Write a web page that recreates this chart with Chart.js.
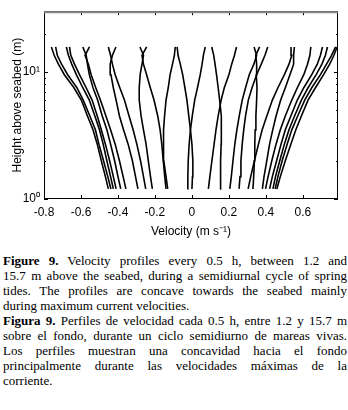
<!DOCTYPE html>
<html>
<head>
<meta charset="utf-8">
<script src="https://cdn.jsdelivr.net/npm/chart.js@4.4.1/dist/chart.umd.min.js"></script>
<style>
  body { margin: 0; background: #fff; width: 348px; height: 410px; overflow: hidden; }
  #chart { position: absolute; left: 0; top: 0; }
  #caption { position: absolute; left: 3px; top: 253px; width: 344px; font-family: 'Liberation Serif', 'Times New Roman', serif; font-size: 13px; line-height: 15px; color: #000; }
  #caption div { white-space: nowrap; text-align: justify; text-align-last: justify; }
  #caption div.last { text-align-last: left; }
</style>
</head>
<body>
<canvas id="chart" width="348" height="242"></canvas>
<div id="caption">
  <div><b>Figure 9.</b> Velocity profiles every 0.5 h, between 1.2 and</div>
  <div>15.7 m above the seabed, during a semidiurnal cycle of spring</div>
  <div>tides. The profiles are concave towards the seabed mainly</div>
  <div class="last">during maximum current velocities.</div>
  <div><b>Figura 9.</b> Perfiles de velocidad cada 0.5 h, entre 1.2 y 15.7 m</div>
  <div>sobre el fondo, durante un ciclo semidiurno de mareas vivas.</div>
  <div>Los perfiles muestran una concavidad hacia el fondo</div>
  <div>principalmente durante las velocidades máximas de la</div>
  <div class="last">corriente.</div>
</div>
<script>
// bin heights above the seabed (m), bottom to top
const heights = [1.2, 1.5, 2, 2.7, 3.5, 4.5, 6, 7.5, 9.5, 11.5, 13.5, 15.7];

// velocity profiles (m/s) at each height
const prof01 = [-0.452, -0.468, -0.49, -0.512, -0.535, -0.565, -0.598, -0.638, -0.69, -0.722, -0.745, -0.76];
const prof02 = [-0.438, -0.455, -0.478, -0.503, -0.522, -0.552, -0.588, -0.622, -0.672, -0.705, -0.728, -0.737];
const prof03 = [-0.425, -0.44, -0.46, -0.48, -0.5, -0.525, -0.555, -0.59, -0.625, -0.65, -0.668, -0.679];
const prof04 = [-0.41, -0.425, -0.445, -0.468, -0.49, -0.512, -0.54, -0.572, -0.608, -0.635, -0.655, -0.662];
const prof05 = [-0.385, -0.4, -0.418, -0.44, -0.46, -0.485, -0.51, -0.535, -0.555, -0.565, -0.572, -0.59];
const prof06 = [-0.357, -0.372, -0.392, -0.415, -0.44, -0.465, -0.495, -0.52, -0.545, -0.56, -0.578, -0.554];
const prof07 = [-0.25, -0.262, -0.278, -0.298, -0.318, -0.34, -0.365, -0.39, -0.415, -0.43, -0.44, -0.452];
const prof08 = [-0.292, -0.305, -0.322, -0.345, -0.37, -0.392, -0.41, -0.425, -0.438, -0.442, -0.43, -0.411];
const prof09 = [-0.214, -0.224, -0.236, -0.248, -0.262, -0.275, -0.285, -0.285, -0.28, -0.27, -0.262, -0.281];
const prof10 = [-0.14, -0.147, -0.155, -0.163, -0.172, -0.185, -0.205, -0.225, -0.245, -0.262, -0.27, -0.245];
const prof11 = [-0.131, -0.14, -0.152, -0.155, -0.152, -0.148, -0.14, -0.128, -0.118, -0.105, -0.095, -0.09];
const prof12 = [0.0, 0.003, 0.005, 0.0, -0.008, -0.017, -0.027, -0.038, -0.05, -0.063, -0.075, -0.08];
const prof13 = [-0.024, -0.022, -0.02, -0.015, -0.008, 0.002, 0.015, 0.03, 0.045, 0.055, 0.062, 0.072];
const prof14 = [0.152, 0.154, 0.156, 0.158, 0.16, 0.158, 0.15, 0.142, 0.133, 0.125, 0.118, 0.107];
const prof15 = [0.089, 0.097, 0.108, 0.12, 0.13, 0.142, 0.158, 0.175, 0.2, 0.215, 0.23, 0.241];
const prof16 = [0.205, 0.213, 0.222, 0.232, 0.243, 0.256, 0.272, 0.29, 0.31, 0.335, 0.35, 0.336];
const prof17 = [0.33, 0.334, 0.338, 0.34, 0.342, 0.346, 0.35, 0.352, 0.348, 0.35, 0.345, 0.366];
const prof18 = [0.255, 0.26, 0.265, 0.272, 0.28, 0.29, 0.305, 0.325, 0.35, 0.375, 0.395, 0.41];
const prof19 = [0.304, 0.318, 0.338, 0.36, 0.38, 0.405, 0.435, 0.465, 0.5, 0.525, 0.54, 0.536];
const prof20 = [0.381, 0.39, 0.405, 0.42, 0.437, 0.455, 0.48, 0.505, 0.53, 0.55, 0.55, 0.554];
const prof21 = [0.398, 0.412, 0.432, 0.455, 0.478, 0.505, 0.54, 0.57, 0.605, 0.625, 0.638, 0.643];
const prof22 = [0.42, 0.435, 0.458, 0.482, 0.505, 0.535, 0.57, 0.605, 0.648, 0.678, 0.695, 0.706];
const prof23 = [0.438, 0.452, 0.475, 0.5, 0.525, 0.555, 0.592, 0.628, 0.672, 0.703, 0.722, 0.733];
const prof24 = [0.45, 0.465, 0.488, 0.515, 0.54, 0.572, 0.61, 0.648, 0.695, 0.728, 0.755, 0.777];
const prof25 = [0.459, 0.478, 0.505, 0.535, 0.562, 0.592, 0.628, 0.668, 0.712, 0.745, 0.768, 0.785];

const profiles = [prof01, prof02, prof03, prof04, prof05, prof06, prof07, prof08, prof09, prof10,
  prof11, prof12, prof13, prof14, prof15, prof16, prof17, prof18, prof19, prof20,
  prof21, prof22, prof23, prof24, prof25];

// axis ticks
const xTicks = [-0.8, -0.6, -0.4, -0.2, 0, 0.2, 0.4, 0.6];
const yTicks = [1, 10];
const yMinorTicks = [2, 3, 4, 5, 6, 7, 8, 9, 20, 30];
const yLabels = {1: '10\u2070', 10: '10\u00b9'};

const axisFont = {family: "'Liberation Sans', Arial, sans-serif", size: 12};

// box around the plot with ticks pointing inward (matlab style)
const framePlugin = {
  id: 'frame',
  afterDraw(chart) {
    const {ctx, chartArea: a, scales: {x, y}} = chart;
    ctx.save();
    ctx.strokeStyle = '#000';
    ctx.lineWidth = 1;
    ctx.strokeRect(a.left + 0.5, a.top + 0.5, a.right - a.left - 1, a.bottom - a.top - 1);
    ctx.beginPath();
    xTicks.forEach(v => {
      const px = Math.round(x.getPixelForValue(v)) + 0.5;
      ctx.moveTo(px, a.bottom); ctx.lineTo(px, a.bottom - 4);
      ctx.moveTo(px, a.top); ctx.lineTo(px, a.top + 4);
    });
    yTicks.concat(yMinorTicks).forEach(v => {
      const py = Math.round(y.getPixelForValue(v)) + 0.5;
      const len = yTicks.includes(v) ? 4 : 2;
      ctx.moveTo(a.left, py); ctx.lineTo(a.left + len, py);
      ctx.moveTo(a.right, py); ctx.lineTo(a.right - len, py);
    });
    ctx.stroke();
    ctx.strokeStyle = '#888';
    ctx.lineWidth = 2;
    ctx.beginPath();
    ctx.moveTo(a.left, a.top + 1); ctx.lineTo(a.right, a.top + 1);
    ctx.stroke();
    ctx.restore();
  }
};

new Chart(document.getElementById('chart'), {
  type: 'line',
  data: {
    datasets: profiles.map(p => ({
      data: p.map((v, i) => ({x: v, y: heights[i]})),
      borderColor: '#000',
      borderWidth: 1.6,
      pointRadius: 0,
      fill: false,
      tension: 0
    }))
  },
  options: {
    responsive: false,
    animation: false,
    devicePixelRatio: 1,
    layout: {padding: {top: 2, right: 10, left: 0, bottom: 0}},
    plugins: {legend: {display: false}, tooltip: {enabled: false}},
    scales: {
      x: {
        type: 'linear',
        min: -0.8,
        max: 0.79,
        afterBuildTicks: s => { s.ticks = xTicks.map(v => ({value: v})); },
        afterFit: s => { s.height = 43; },
        grid: {display: false, drawTicks: false},
        border: {display: false},
        ticks: {padding: 6, color: '#000', font: axisFont, maxRotation: 0, callback: v => String(Math.round(v * 10) / 10)},
        title: {display: true, text: 'Velocity (m s\u207b\u00b9)', color: '#000', font: axisFont, padding: {top: 0, bottom: 3}}
      },
      y: {
        type: 'logarithmic',
        min: 1,
        max: 30,
        afterBuildTicks: s => { s.ticks = yTicks.map(v => ({value: v})); },
        afterFit: s => { s.width = 44; },
        grid: {display: false, drawTicks: false},
        border: {display: false},
        ticks: {padding: 4, color: '#000', font: axisFont, callback: v => yLabels[v] || ''},
        title: {display: true, text: 'Height above seabed (m)', color: '#000', font: axisFont, padding: {top: 10, bottom: 0}}
      }
    }
  },
  plugins: [framePlugin]
});
</script>
</body>
</html>
